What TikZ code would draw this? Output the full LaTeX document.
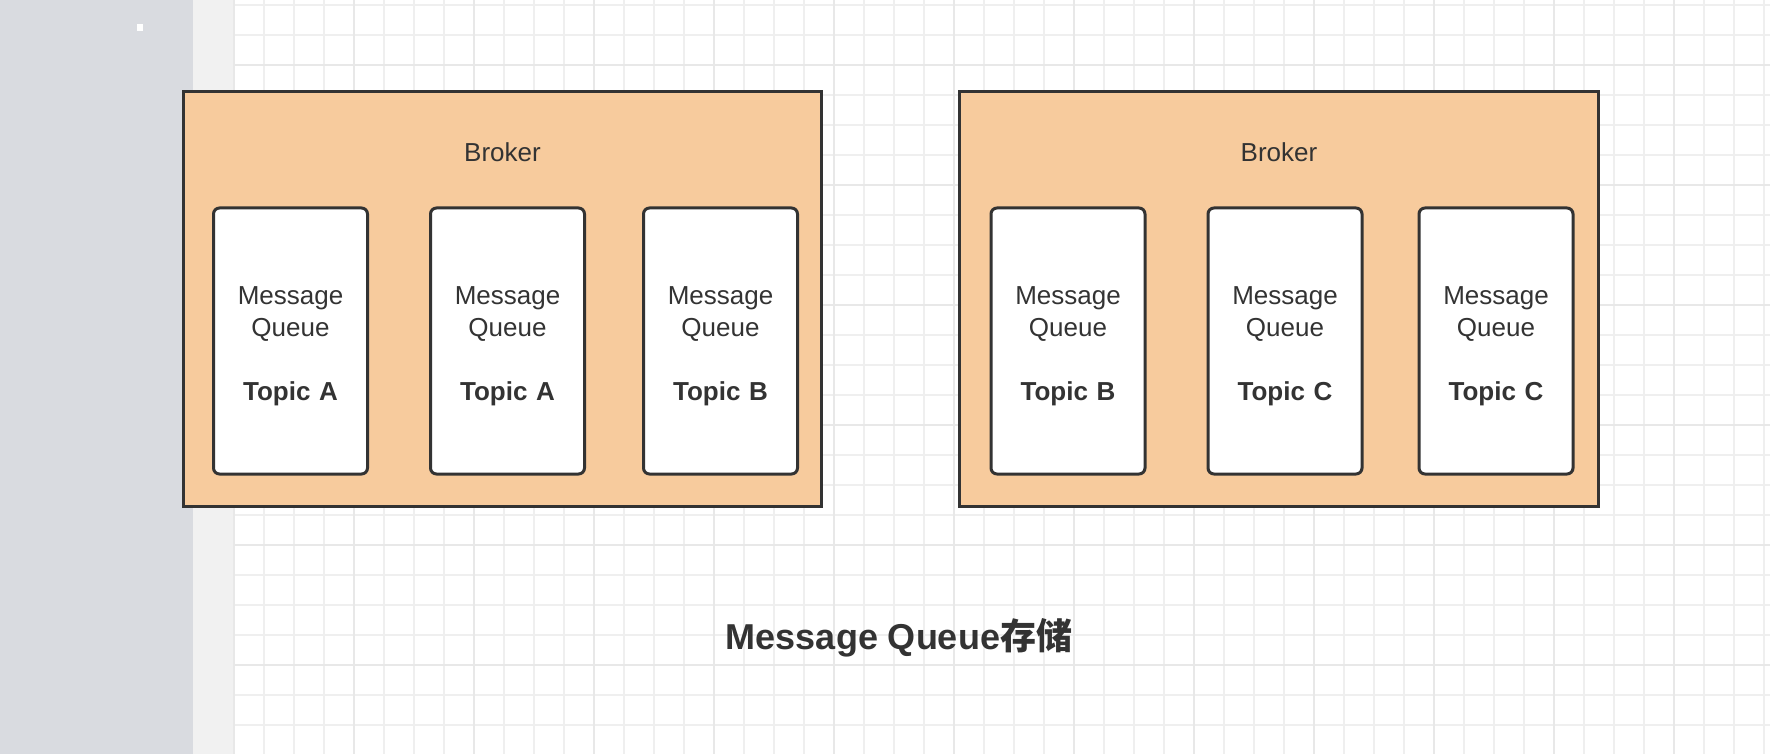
\documentclass[tikz,border=0pt]{standalone}
\usepackage{fontspec}
\setmainfont{Liberation Sans}
\newfontfamily\cjkfont{Noto Sans CJK SC}
\usepackage{xcolor}
\usepackage{tikz}
\usetikzlibrary{positioning}
\definecolor{brokerFill}{HTML}{F7CB9D}
\definecolor{edgeDark}{HTML}{333333}
\definecolor{textDark}{HTML}{333333}
\definecolor{sideGray}{HTML}{D9DBE0}
\definecolor{sideLight}{HTML}{F1F1F1}
\definecolor{gridMinor}{HTML}{EFEFEF}
\definecolor{gridMajor}{HTML}{E8E8E8}

\begin{document}
\begin{tikzpicture}[
    x=0.5pt, y=-0.5pt,
    node distance=30pt,
    broker/.style={rectangle, draw=edgeDark, fill=brokerFill, line width=1.5pt, minimum width=#1, minimum height=207.5pt},
    queue/.style={rectangle, rounded corners=3pt, draw=edgeDark, fill=white, line width=1.5pt, minimum width=77pt, minimum height=133pt, text width=66pt, align=center, text=textDark, font=\fontsize{13}{16}\selectfont, execute at begin node={\rule{0pt}{14pt}}},
    brokertitle/.style={font=\fontsize{13}{16}\selectfont, text=textDark},
    headline/.style={font=\bfseries\fontsize{18}{22}\selectfont, text=textDark},
    gridline/.style={draw=#1, line width=1pt}
]

% Canvas
\useasboundingbox (0,0) rectangle (1770,754);
\fill[white] (0,0) rectangle (1770,754);
\fill[sideGray] (0,0) rectangle (193,754);
\fill[sideLight] (193,0) rectangle (234,754);
\fill[white] (137,24) rectangle (143,31);

% Grid
\foreach \gx in {234,264,...,1770} \draw[gridline=gridMinor] (\gx,0) -- (\gx,754);
\foreach \gy in {5,35,...,754} \draw[gridline=gridMinor] (234,\gy) -- (1770,\gy);
\foreach \gx in {234,354,...,1770} \draw[gridline=gridMajor] (\gx,0) -- (\gx,754);
\foreach \gy in {65,185,...,754} \draw[gridline=gridMajor] (234,\gy) -- (1770,\gy);

% Left Broker
\node[broker=319pt] (brokerL) at (502.5,299) {};
\node[brokertitle, below=23pt of brokerL.north] (brokerLtitle) {Broker};

\node[queue] (queueA1) at (290.5,341) {Message\\Queue\\[16pt]\textbf{Topic A}};
\node[queue, right=30pt of queueA1] (queueA2) {Message\\Queue\\[16pt]\textbf{Topic A}};
\node[queue, right=28pt of queueA2] (queueB1) {Message\\Queue\\[16pt]\textbf{Topic B}};

% Right Broker
\node[broker=319.5pt] (brokerR) at (1279,299) {};
\node[brokertitle, below=23pt of brokerR.north] (brokerRtitle) {Broker};

\node[queue] (queueB2) at (1068,341) {Message\\Queue\\[16pt]\textbf{Topic B}};
\node[queue, right=30pt of queueB2] (queueC1) {Message\\Queue\\[16pt]\textbf{Topic C}};
\node[queue, right=27pt of queueC1] (queueC2) {Message\\Queue\\[16pt]\textbf{Topic C}};

% Caption
\node[headline] (storage) at (899,638) {Message Queue{\cjkfont 存储}};

\end{tikzpicture}
\end{document}
